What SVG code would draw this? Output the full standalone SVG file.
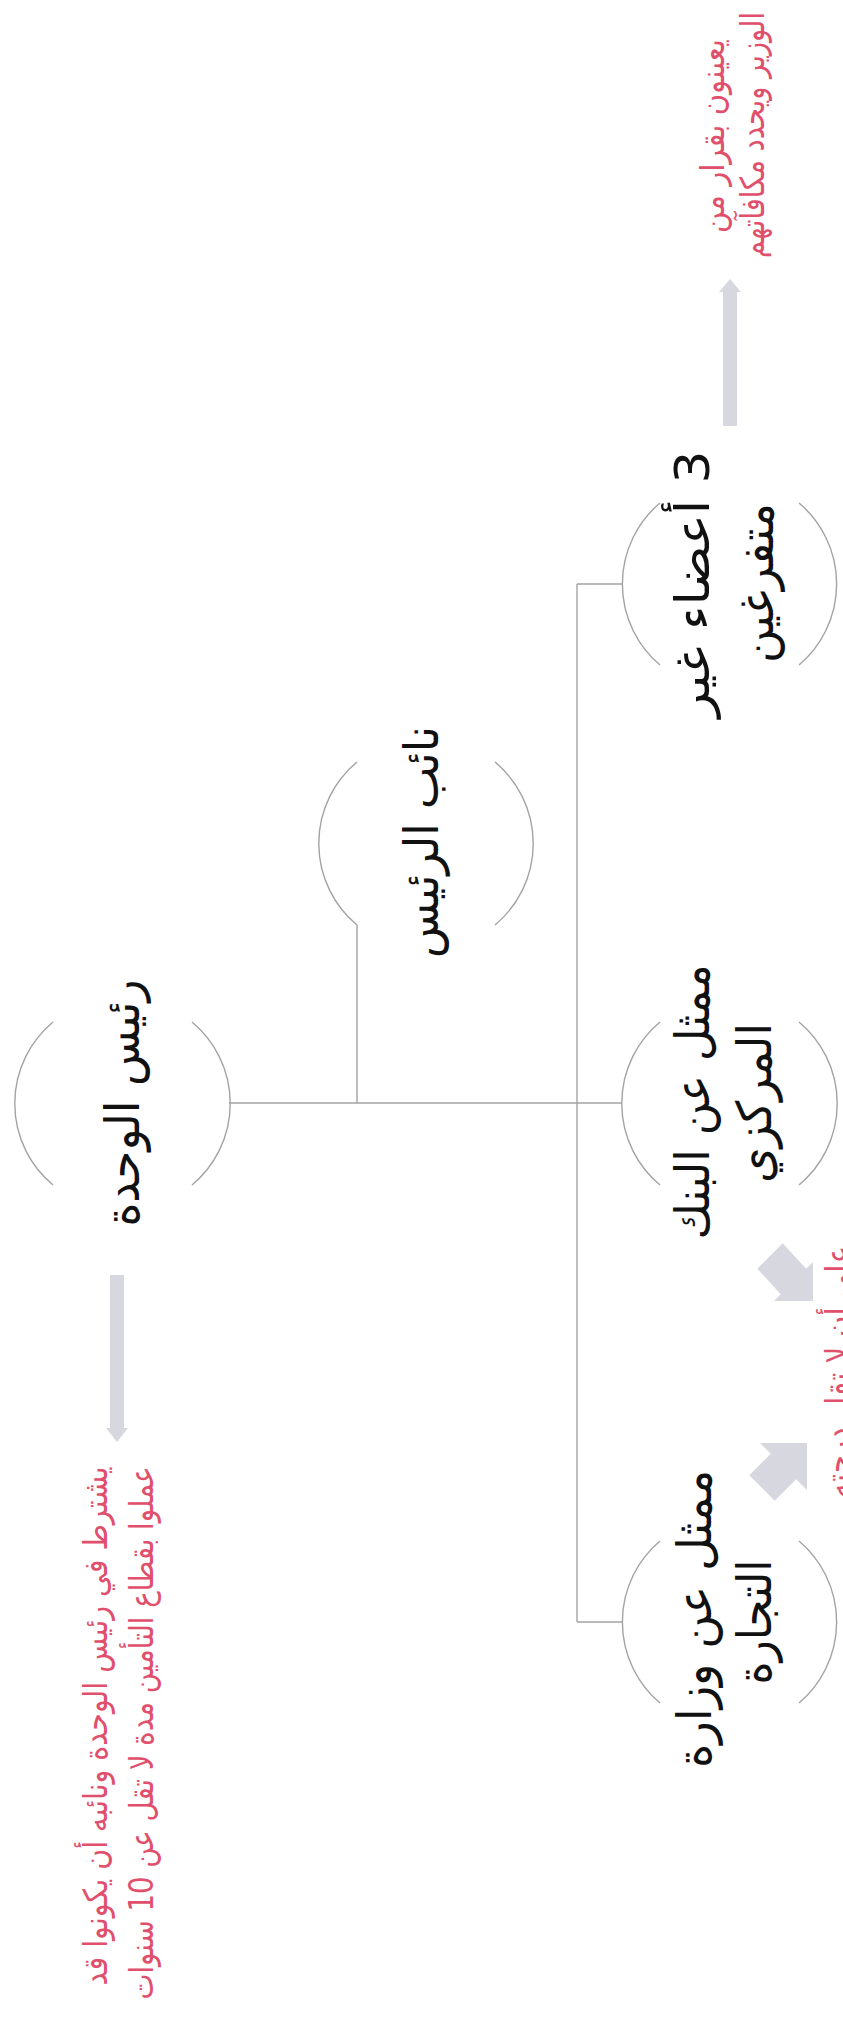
<svg xmlns="http://www.w3.org/2000/svg" width="843" height="2027" viewBox="0 0 843 2027">
<style>
.arc{fill:none;stroke:#a3a3a3;stroke-width:1.4}
.ln{fill:none;stroke:#a3a3a3;stroke-width:1.4}
.lbl{font-family:"DejaVu Sans",sans-serif;font-size:48px;fill:#111;direction:rtl}
.note{font-family:"DejaVu Sans",sans-serif;font-size:33px;fill:#e0506c;direction:rtl}
.blk{fill:#d7d7df}
</style>
<rect width="843" height="2027" fill="#fff"/>
<g id="connectors">
<path class="ln" d="M229 1103 H622"/>
<path class="ln" d="M357 1103 V925"/>
<path class="ln" d="M577 584 V1622"/>
<path class="ln" d="M577 584 H622"/>
<path class="ln" d="M577 1622 H622"/>
</g>
<g id="node-head">
<path class="arc" d="M53 1022 A106 106 0 0 0 53 1185"/>
<path class="arc" d="M192 1022 A106 106 0 0 1 192 1185"/>
<text class="lbl" transform="translate(139 1103) rotate(-90)" text-anchor="middle" textLength="247" lengthAdjust="spacingAndGlyphs">رئيس الوحدة</text>
</g>
<g id="node-vice">
<path class="arc" d="M357 762 A106 106 0 0 0 357 925"/>
<path class="arc" d="M495 762 A106 106 0 0 1 495 925"/>
<text class="lbl" transform="translate(438 842) rotate(-90)" text-anchor="middle" textLength="232" lengthAdjust="spacingAndGlyphs">نائب الرئيس</text>
</g>
<g id="node-members">
<path class="arc" d="M660 503 A106 106 0 0 0 660 665"/>
<path class="arc" d="M799 503 A106 106 0 0 1 799 665"/>
<text class="lbl" transform="translate(709 584) rotate(-90)" text-anchor="middle" textLength="267" lengthAdjust="spacingAndGlyphs">3 أعضاء غير</text>
<text class="lbl" transform="translate(773 583) rotate(-90)" text-anchor="middle" textLength="160" lengthAdjust="spacingAndGlyphs">متفرغين</text>
</g>
<g id="node-bank">
<path class="arc" d="M660 1022 A106 106 0 0 0 660 1185"/>
<path class="arc" d="M799 1022 A106 106 0 0 1 799 1185"/>
<text class="lbl" transform="translate(709 1102) rotate(-90)" text-anchor="middle" textLength="275" lengthAdjust="spacingAndGlyphs">ممثل عن البنك</text>
<text class="lbl" transform="translate(771 1103) rotate(-90)" text-anchor="middle" textLength="160" lengthAdjust="spacingAndGlyphs">المركزي</text>
</g>
<g id="node-trade">
<path class="arc" d="M660 1541 A106 106 0 0 0 660 1703"/>
<path class="arc" d="M799 1541 A106 106 0 0 1 799 1703"/>
<text class="lbl" transform="translate(711 1619) rotate(-90)" text-anchor="middle" textLength="298" lengthAdjust="spacingAndGlyphs">ممثل عن وزارة</text>
<text class="lbl" transform="translate(771 1622) rotate(-90)" text-anchor="middle" textLength="125" lengthAdjust="spacingAndGlyphs">التجارة</text>
</g>
<g id="note-members">
<polygon class="blk" points="723,426 723,292 719,292 730,279 741,292 737,292 737,426"/>
<text class="note" transform="translate(724 136) rotate(-90)" text-anchor="middle" textLength="194" lengthAdjust="spacingAndGlyphs">يعينون بقرار من</text>
<text class="note" transform="translate(764 135) rotate(-90)" text-anchor="middle" textLength="246" lengthAdjust="spacingAndGlyphs">الوزير ويحدد مكافآتهم</text>
</g>
<g id="note-head">
<polygon class="blk" points="110,1275 124,1275 124,1428 128,1428 117,1442 106,1428 110,1428"/>
<text class="note" transform="translate(107 1726) rotate(-90)" text-anchor="middle" textLength="519" lengthAdjust="spacingAndGlyphs">يشترط في رئيس الوحدة ونائبه أن يكونوا قد</text>
<text class="note" transform="translate(153 1733) rotate(-90)" text-anchor="middle" textLength="533" lengthAdjust="spacingAndGlyphs">عملوا بقطاع التأمين مدة لا تقل عن 10 سنوات</text>
</g>
<g id="note-reps">
<polygon class="blk" points="782.7,1243.3 806.2,1268.8 813,1262 813,1301 774,1301 780.8,1294.2 757.3,1268.7"/>
<polygon class="blk" points="749.3,1475.3 770.8,1453.8 760,1443 807,1443 807,1490 796.2,1479.2 774.7,1500.7"/>
<text class="note" transform="translate(849 1372) rotate(-90)" text-anchor="middle" textLength="252" lengthAdjust="spacingAndGlyphs">على أن لا تقل درجته</text>
</g>
</svg>
